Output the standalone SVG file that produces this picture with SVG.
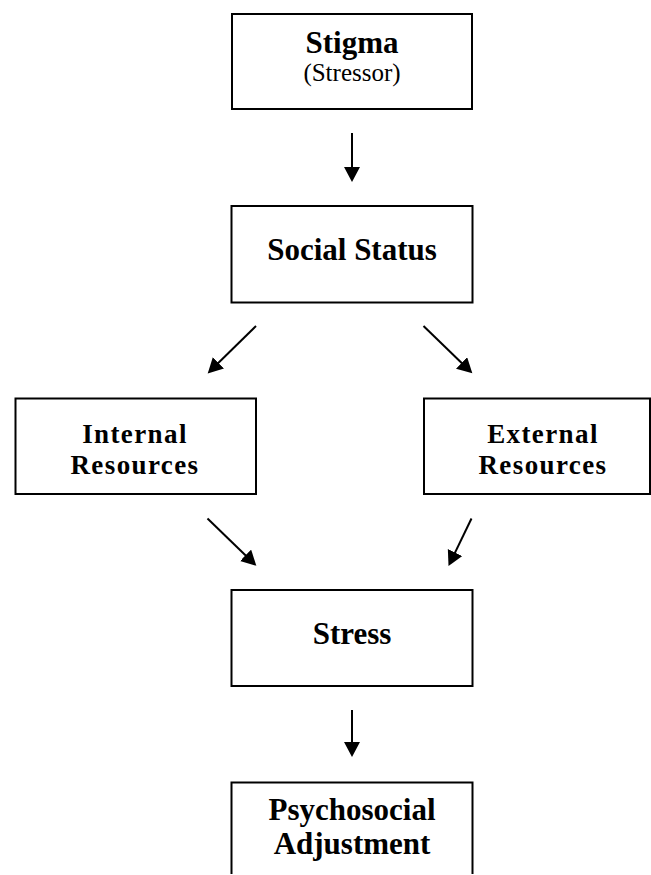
<svg xmlns="http://www.w3.org/2000/svg" width="651" height="875" viewBox="0 0 651 875">
<style>
.box{fill:#fff;stroke:#000;stroke-width:2}
.t{font-family:"Liberation Serif","Times New Roman",serif;font-weight:bold;font-size:31px;fill:#000;text-anchor:middle}
.t2{font-family:"Liberation Serif","Times New Roman",serif;font-weight:bold;font-size:27px;letter-spacing:1.4px;fill:#000;text-anchor:middle}
.s{font-family:"Liberation Serif","Times New Roman",serif;font-size:25px;fill:#000;text-anchor:middle}
.c{stroke:#000;stroke-width:2;fill:none}
</style>
<defs>
<marker id="ah" markerUnits="userSpaceOnUse" markerWidth="16" markerHeight="17" refX="7" refY="8" orient="auto" viewBox="0 0 16 17">
<path d="M0,0 L15,8 L0,16 z" fill="#000"/>
</marker>
</defs>
<rect width="651" height="875" fill="#fff"/>
<g id="connectors">
<line class="c" x1="352" y1="133" x2="352" y2="174" marker-end="url(#ah)"/>
<line class="c" x1="256" y1="326" x2="213.4" y2="367.8" marker-end="url(#ah)"/>
<line class="c" x1="423.5" y1="326" x2="466.6" y2="367.8" marker-end="url(#ah)"/>
<line class="c" x1="207.5" y1="518.5" x2="250.6" y2="560.2" marker-end="url(#ah)"/>
<line class="c" x1="471.5" y1="518.5" x2="452" y2="558.9" marker-end="url(#ah)"/>
<line class="c" x1="352" y1="710" x2="352" y2="749" marker-end="url(#ah)"/>
</g>
<g id="stigma">
<rect class="box" x="232" y="14" width="240" height="95"/>
<text class="t" x="352" y="53">Stigma</text>
<text class="s" x="352" y="81">(Stressor)</text>
</g>
<g id="social-status">
<rect class="box" x="231.5" y="206" width="241" height="96.5"/>
<text class="t" x="352" y="260">Social Status</text>
</g>
<g id="internal-resources">
<rect class="box" x="15.5" y="398.5" width="240.5" height="95.5"/>
<text class="t2" x="135" y="443">Internal</text>
<text class="t2" x="135" y="474">Resources</text>
</g>
<g id="external-resources">
<rect class="box" x="424" y="398.5" width="226" height="95.5"/>
<text class="t2" x="543" y="443">External</text>
<text class="t2" x="543" y="474">Resources</text>
</g>
<g id="stress">
<rect class="box" x="231.5" y="590" width="241" height="96"/>
<text class="t" x="352" y="644">Stress</text>
</g>
<g id="psychosocial-adjustment">
<path class="box" d="M231.5,874 V782.5 H472.5 V874"/>
<text class="t" x="352" y="820">Psychosocial</text>
<text class="t" x="352" y="854">Adjustment</text>
</g>
</svg>
